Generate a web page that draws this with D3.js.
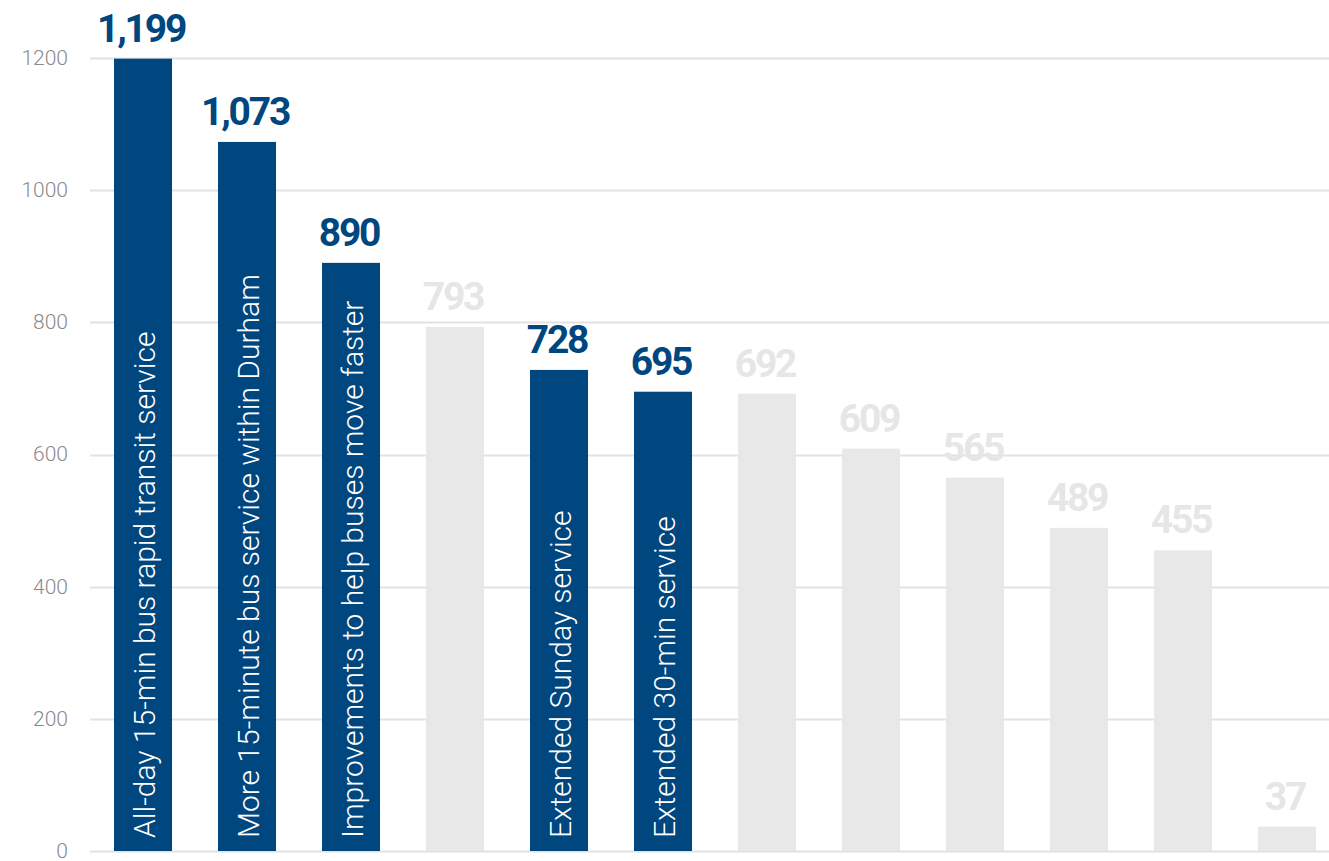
<!DOCTYPE html>
<html><head><meta charset="utf-8">
<script src="https://cdn.jsdelivr.net/npm/d3@7/dist/d3.min.js"></script>
<style>body{margin:0;background:#fff}svg{display:block}</style>
</head><body>
<svg id="c" width="1329" height="861"></svg>
<script>
const categories = [
  "All-day 15-min bus rapid transit service",
  "More 15-minute bus service within Durham",
  "Improvements to help buses move faster",
  "",
  "Extended Sunday service",
  "Extended 30-min service",
  "", "", "", "", "", ""
];
const values = [1199, 1073, 890, 793, 728, 695, 692, 609, 565, 489, 455, 37];
const highlighted = [true, true, true, false, true, true, false, false, false, false, false, false];
const yTicks = [0, 200, 400, 600, 800, 1000, 1200];

const BLUE = "#00467f", GREY_BAR = "#e8e8e8", GREY_LBL = "#e6e6e6";
const svg = d3.select("#c");
const y = d3.scaleLinear().domain([0, 1200]).range([851, 58]);
const x = d3.scaleBand().domain(d3.range(values.length)).range([114, 1316]).paddingInner(0.442).paddingOuter(0);

// gridlines
svg.append("g").selectAll("line").data(yTicks).join("line")
  .attr("x1", 90).attr("x2", 1329)
  .attr("y1", d => Math.round(y(d)) + 0.5).attr("y2", d => Math.round(y(d)) + 0.5)
  .attr("stroke", "#e2e2e2").attr("stroke-width", 2);

// y axis labels
svg.append("g").selectAll("text").data(yTicks).join("text")
  .attr("x", 68).attr("y", d => y(d)).attr("dy", "0.33em")
  .attr("text-anchor", "end")
  .attr("font-family", "Roboto, sans-serif").attr("font-weight", 300)
  .attr("font-size", 21).attr("fill", "#8a8a8a")
  .text(d => d);

// bars
svg.append("g").selectAll("rect").data(values).join("rect")
  .attr("x", (d, i) => x(i)).attr("width", x.bandwidth())
  .attr("y", d => y(d)).attr("height", d => y(0) - y(d))
  .attr("fill", (d, i) => highlighted[i] ? BLUE : GREY_BAR);

// value labels
svg.append("g").selectAll("text").data(values).join("text")
  .attr("x", (d, i) => x(i) + x.bandwidth() / 2 - 2)
  .attr("y", d => y(d) - 17)
  .attr("text-anchor", "middle")
  .attr("font-family", "Roboto, sans-serif").attr("font-weight", 700)
  .attr("font-size", 39).attr("letter-spacing", -2.2)
  .attr("fill", (d, i) => highlighted[i] ? BLUE : GREY_LBL)
  .text(d => d3.format(",")(d));

// rotated category labels inside bars
svg.append("g").selectAll("text").data(categories).join("text")
  .filter(d => d !== "")
  .attr("transform", (d, i) => `translate(${x(categories.indexOf(d)) + x.bandwidth() / 2 + 1},838) rotate(-90)`)
  .attr("dominant-baseline", "central")
  .attr("font-family", "Roboto, sans-serif").attr("font-weight", 300)
  .attr("font-size", 30).attr("fill", "#ffffff")
  .text(d => d);
</script>
</body></html>
